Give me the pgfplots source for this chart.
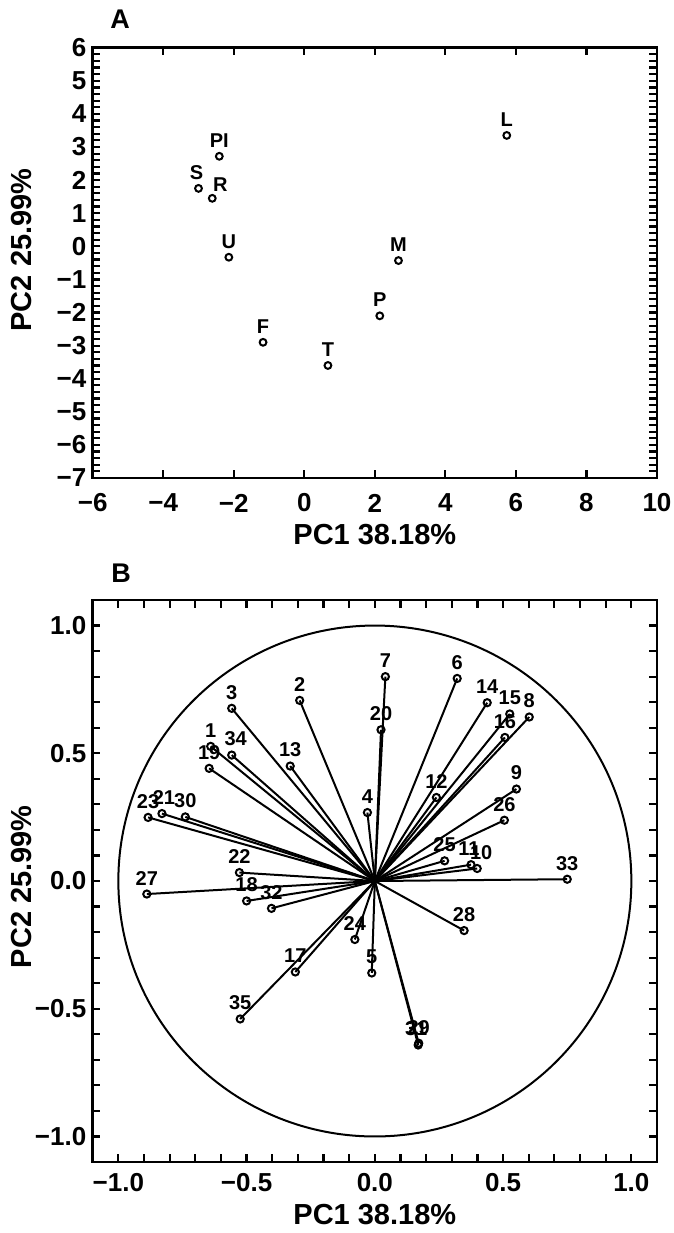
\documentclass[border=0pt]{standalone}
\usepackage{fontspec}
\setmainfont{Liberation Sans}
\usepackage{pgfplots}
\usepackage{pgfplotstable}
\pgfplotsset{compat=1.18}

\pgfplotstableread{
lab x y dx dy
S  -3.00  1.75 -1 0
PI -2.41  2.72  0 0
R  -2.61  1.45  4 -1
U  -2.14 -0.33  0 0
F  -1.17 -2.90  0 0
T   0.67 -3.60  0 0
P   2.14 -2.10  0 0
M   2.67 -0.43  0 0
L   5.74  3.35  0 0
}\scoresA

\pgfplotstableread{
lab x y dx
1  -0.640  0.527 0
2  -0.293  0.707 0
3  -0.558  0.676 0
4  -0.029  0.268 0
5  -0.012 -0.360 0
6   0.321  0.793 0
7   0.041  0.800 0
8   0.602  0.642 0
9   0.552  0.360 0
10  0.399  0.049 2
11  0.375  0.064 -1
12  0.240  0.327 0
13 -0.330  0.450 0
14  0.438  0.698 0
15  0.526  0.654 0
16  0.507  0.562 0
17 -0.310 -0.356 0
18 -0.500 -0.078 0
19 -0.646  0.441 0
20  0.024  0.592 0
21 -0.830  0.264 1
22 -0.528  0.033 0
23 -0.884  0.249 0
24 -0.078 -0.229 0
25  0.272  0.079 0
26  0.505  0.238 0
27 -0.889 -0.051 0
28  0.348 -0.194 0
29  0.171 -0.635 0
30 -0.739  0.251 0
31  0.169 -0.642 -1
32 -0.403 -0.107 0
33  0.750  0.007 0
34 -0.558  0.493 2
35 -0.525 -0.540 0
}\loadB

\pgfplotsset{
  myaxis/.style={
    scale only axis,
    width=282.15pt,
    tick align=inside,
    major tick length=3.8pt,
    minor tick length=3.8pt,
    every tick/.style={black, line width=1.1pt},
    axis line style={line width=1.3pt},
    tick label style={font=\fontsize{13}{13}\selectfont\bfseries},
    yticklabel style={anchor=east, inner sep=0pt, xshift=-3pt},
    every axis x label/.style={anchor=center, font=\fontsize{14.5}{14.5}\selectfont\bfseries},
    every axis y label/.style={rotate=90, anchor=center, font=\fontsize{14.5}{14.5}\selectfont\bfseries},
    xlabel={PC1 38.18\%},
    ylabel={PC2 25.99\%},
    clip=false,
  },
  labnodes/.style={
    nodes near coords,
    point meta=explicit symbolic,
    nodes near coords align={anchor=south},
    every node near coord/.append style={font=\fontsize{10}{10}\selectfont\bfseries, inner sep=0pt, anchor=south, black},
  },
}

\begin{document}
\begin{tikzpicture}
\path[use as bounding box] (0pt,0pt) rectangle (337pt,-616.5pt);

\node[font=\fontsize{13.5}{13.5}\selectfont\bfseries] at (60pt,-9.5pt) {A};
\node[font=\fontsize{13.5}{13.5}\selectfont\bfseries] at (60.5pt,-286.5pt) {B};

% ---------- Panel A ----------
\begin{axis}[
  myaxis,
  at={(46.35pt,-239pt)}, anchor=south west,
  height=215.15pt,
  xmin=-6, xmax=10, ymin=-7, ymax=6,
  xtick={-6,-4,-2,0,2,4,6,8,10},
  xticklabels={−6,−4,−2,0,2,4,6,8,10},
  ytick={-7,-6,-5,-4,-3,-2,-1,0,1,2,3,4,5,6},
  yticklabels={−7,−6,−5,−4,−3,−2,−1,0,1,2,3,4,5,6},
  minor y tick num=4,
  xticklabel style={anchor=center, inner sep=0pt, yshift=-12.5pt},
  x label style={at={(axis description cs:0.5,-0.1325)}},
  y label style={at={(axis description cs:-0.1253,0.53)}},
]
\addplot[only marks, mark=o, mark size=1.7pt, mark options={line width=1pt, fill=white},
  labnodes,
  visualization depends on={\thisrow{dx} \as \dx},
  visualization depends on={\thisrow{dy} \as \dy},
  every node near coord/.append style={xshift=\dx pt, yshift=4pt+\dy pt},
] table[x=x, y=y, meta=lab] {\scoresA};
\end{axis}

% ---------- Panel B ----------
\begin{axis}[
  myaxis,
  at={(46.35pt,-581pt)}, anchor=south west,
  height=281pt,
  xmin=-1.1, xmax=1.1, ymin=-1.1, ymax=1.1,
  xtick={-1,-0.5,0,0.5,1},
  xticklabels={−1.0,−0.5,0.0,0.5,1.0},
  ytick={-1,-0.5,0,0.5,1},
  yticklabels={−1.0,−0.5,0.0,0.5,1.0},
  minor tick num=4,
  xticklabel style={anchor=center, inner sep=0pt, yshift=-10.5pt},
  x label style={at={(axis description cs:0.5,-0.0943)}},
  y label style={at={(axis description cs:-0.1253,0.49)}},
]
\addplot[black, line width=1pt, quiver={u=\thisrow{x}, v=\thisrow{y}}]
  table[x expr=0, y expr=0] {\loadB};
\draw[line width=1pt] (axis cs:0,0) ellipse [x radius=1, y radius=1];
\addplot[only marks, mark=o, mark size=1.8pt, mark options={line width=1pt, fill=white},
  labnodes,
  visualization depends on={\thisrow{dx} \as \dx},
  every node near coord/.append style={xshift=\dx pt, yshift=4pt},
] table[x=x, y=y, meta=lab] {\loadB};
\end{axis}
\end{tikzpicture}
\end{document}
